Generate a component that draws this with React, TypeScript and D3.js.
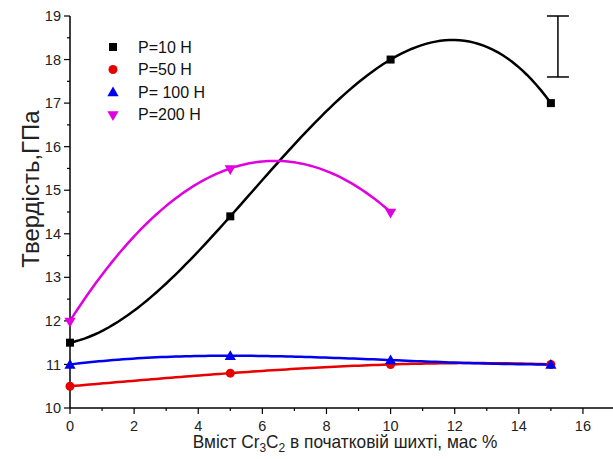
import React from "react";
import * as d3 from "d3";

const xs10 = [0, 5, 10, 15];
const p10 = [11.5, 14.4, 18, 17];
const xs50 = [0, 5, 10, 15];
const p50 = [10.5, 10.8, 11, 11];
const xs100 = [0, 5, 10, 15];
const p100 = [11, 11.2, 11.1, 11];
const xs200 = [0, 5, 10];
const p200 = [12, 15.5, 14.5];
const legendLabels = ["P=10 Н", "P=50 Н", "P= 100 Н", "P=200 Н"];
const colors = ["#000000", "#e60000", "#0000ee", "#e000e0"];
const xTicks = [0, 2, 4, 6, 8, 10, 12, 14, 16];
const yTicks = [10, 11, 12, 13, 14, 15, 16, 17, 18, 19];
const errX = 15.22;
const errLow = 17.6;
const errHigh = 19;

const W = 613, H = 459;
const x = d3.scaleLinear().domain([0, 17]).range([70, 615]);
const y = d3.scaleLinear().domain([10, 19]).range([408, 16]);

function lagrange(xs: number[], ys: number[], t: number) {
  let s = 0;
  for (let i = 0; i < xs.length; i++) {
    let l = 1;
    for (let j = 0; j < xs.length; j++) if (j !== i) l *= (t - xs[j]) / (xs[i] - xs[j]);
    s += ys[i] * l;
  }
  return s;
}

function curvePath(xs: number[], ys: number[]) {
  const lo = xs[0], hi = xs[xs.length - 1];
  const pts: [number, number][] = d3.range(0, 101).map(i => {
    const t = lo + (hi - lo) * i / 100;
    return [t, lagrange(xs, ys, t)];
  });
  return d3.line<[number, number]>().x(d => x(d[0])).y(d => y(d[1]))(pts) || "";
}

function Marker({ kind, cx, cy, color }: { kind: number; cx: number; cy: number; color: string }) {
  if (kind === 0) return <rect x={cx - 4} y={cy - 4} width={8} height={8} fill={color} />;
  if (kind === 1) return <circle cx={cx} cy={cy} r={4.5} fill={color} />;
  const sym = d3.symbol().type(d3.symbolTriangle).size(55)() || "";
  return <path d={sym} transform={`translate(${cx},${cy + (kind === 3 ? 0 : 1)}) ${kind === 3 ? "rotate(180)" : ""}`} fill={color} />;
}

export default function App() {
  const series = [
    { xs: xs10, ys: p10 },
    { xs: xs50, ys: p50 },
    { xs: xs100, ys: p100 },
    { xs: xs200, ys: p200 },
  ];
  const font = "'Liberation Sans', Arial, sans-serif";
  const minorX = d3.range(1, 17, 2);
  const minorY = d3.range(10.5, 19, 1);
  return (
    <svg width={W} height={H} style={{ position: "absolute", left: 0, top: 0, background: "#fff" }} fontFamily={font}>
      {/* axes */}
      <line x1={x(0)} x2={x(0)} y1={y(19)} y2={y(10)} stroke="#000" strokeWidth={1.5} />
      <line x1={x(0)} x2={W} y1={y(10)} y2={y(10)} stroke="#000" strokeWidth={1.5} />
      {yTicks.map(v => (
        <g key={"y" + v}>
          <line x1={x(0) - 6} x2={x(0)} y1={y(v)} y2={y(v)} stroke="#000" strokeWidth={1.2} />
          <text x={x(0) - 9} y={y(v)} dy="0.35em" textAnchor="end" fontSize={14.5} fill="#222">{v}</text>
        </g>
      ))}
      {minorY.map(v => (
        <line key={"my" + v} x1={x(0) - 3} x2={x(0)} y1={y(v)} y2={y(v)} stroke="#000" strokeWidth={1.2} />
      ))}
      {xTicks.map(v => (
        <g key={"x" + v}>
          <line x1={x(v)} x2={x(v)} y1={y(10)} y2={y(10) + 6} stroke="#000" strokeWidth={1.2} />
          <text x={x(v)} y={y(10) + 23} textAnchor="middle" fontSize={14.5} fill="#222">{v}</text>
        </g>
      ))}
      {minorX.map(v => (
        <line key={"mx" + v} x1={x(v)} x2={x(v)} y1={y(10)} y2={y(10) + 3} stroke="#000" strokeWidth={1.2} />
      ))}
      {/* titles */}
      <text transform={`translate(39,${(y(10) + y(19)) / 2 - 23}) rotate(-90)`} textAnchor="middle" fontSize={24} fill="#222">Твердість,ГПа</text>
      <text transform="translate(345,448) scale(1,1.1)" textAnchor="middle" fontSize={17.3} fill="#222">
        Вміст Cr<tspan fontSize={12} dy={4}>3</tspan><tspan dy={-4}>C</tspan><tspan fontSize={12} dy={4}>2</tspan><tspan dy={-4}> в початковій шихті, мас %</tspan>
      </text>
      {/* curves */}
      {series.map((s, i) => (
        <path key={"c" + i} d={curvePath(s.xs, s.ys)} fill="none" stroke={colors[i]} strokeWidth={2.5} />
      ))}
      {series.map((s, i) => s.xs.map((xv, j) => (
        <Marker key={`m${i}-${j}`} kind={i} cx={x(xv)} cy={y(s.ys[j])} color={colors[i]} />
      )))}
      {/* error bar */}
      <g stroke="#000" strokeWidth={1.5}>
        <line x1={x(errX)} x2={x(errX)} y1={y(errHigh)} y2={y(errLow)} />
        <line x1={x(errX) - 11} x2={x(errX) + 11} y1={y(errHigh)} y2={y(errHigh)} />
        <line x1={x(errX) - 11} x2={x(errX) + 11} y1={y(errLow)} y2={y(errLow)} />
      </g>
      {/* legend */}
      {legendLabels.map((lab, i) => (
        <g key={"l" + i}>
          <Marker kind={i} cx={113} cy={47 + i * 22.5} color={colors[i]} />
          <text x={138} y={47 + i * 22.5} dy="0.35em" fontSize={16} fill="#111">{lab}</text>
        </g>
      ))}
    </svg>
  );
}
